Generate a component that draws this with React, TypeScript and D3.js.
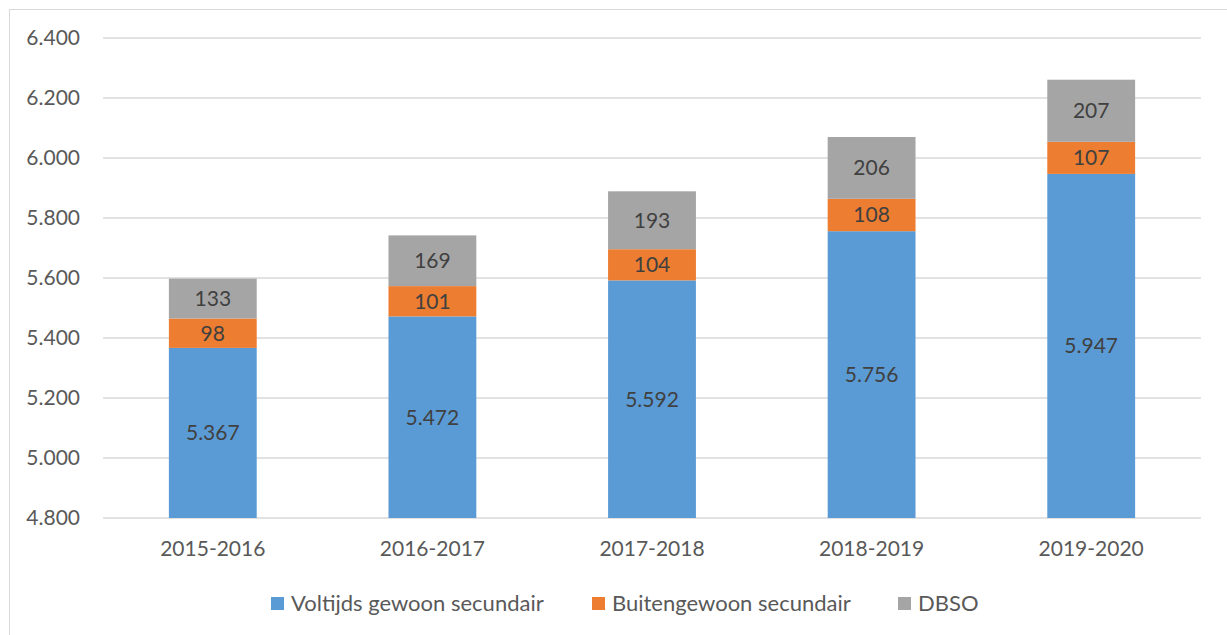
import React from "react";
import * as d3 from "d3";

const categories = ["2015-2016", "2016-2017", "2017-2018", "2018-2019", "2019-2020"];
const voltijds = [5367, 5472, 5592, 5756, 5947];
const buitengewoon = [98, 101, 104, 108, 107];
const dbso = [133, 169, 193, 206, 207];
const seriesNames = ["Voltijds gewoon secundair", "Buitengewoon secundair", "DBSO"];
const seriesColors = ["#5B9BD5", "#ED7D31", "#A5A5A5"];
const yTicks = [4800, 5000, 5200, 5400, 5600, 5800, 6000, 6200, 6400];

const W = 1227;
const H = 635;
const left = 103;
const right = 1201;
const top = 38;
const bottom = 518;
const font = "Lato, 'Open Sans', sans-serif";

const locale = d3.formatLocale({ decimal: ",", thousands: ".", grouping: [3], currency: ["€", ""] });
const fmt = locale.format(",d");

export default function App() {
  const x = d3.scaleBand<string>().domain(categories).range([left, right]).paddingInner(0.6).paddingOuter(0.3);
  const y = d3.scaleLinear().domain([4800, 6400]).range([bottom, top]);
  const rows = categories.map((c, i) => ({ cat: c, v: voltijds[i], b: buitengewoon[i], d: dbso[i] }));
  const stack = d3.stack<any>().keys(["v", "b", "d"])(rows);
  const legendX = [271, 592, 898];

  return (
    <svg width={W} height={H} style={{ position: "absolute", left: 0, top: 0, background: "#fff" }}>
      <rect x={9.5} y={9.5} width={W} height={H} fill="#fff" stroke="#D9D9D9" strokeWidth={1} />
      {yTicks.map((t) => (
        <g key={t}>
          <line x1={left} x2={right} y1={y(t)} y2={y(t)} stroke="#D9D9D9" strokeWidth={1.3} />
          <text x={80} y={y(t)} dy="0.35em" textAnchor="end" fontFamily={font} fontSize={21} fill="#595959">
            {fmt(t)}
          </text>
        </g>
      ))}
      {stack.map((layer, si) =>
        layer.map((seg, i) => {
          const y0 = Math.max(4800, seg[0]);
          const y1 = seg[1];
          const cx = (x(categories[i]) as number) + x.bandwidth() / 2;
          const val = seg[1] - seg[0];
          return (
            <g key={si + "-" + i}>
              <rect
                x={x(categories[i])}
                width={x.bandwidth()}
                y={y(y1)}
                height={y(y0) - y(y1)}
                fill={seriesColors[si]}
              />
              <text
                x={cx}
                y={(y(y0) + y(y1)) / 2}
                dy="0.35em"
                textAnchor="middle"
                fontFamily={font}
                fontSize={21}
                fill="#404040"
              >
                {fmt(val)}
              </text>
            </g>
          );
        })
      )}
      {categories.map((c) => (
        <text
          key={c}
          x={(x(c) as number) + x.bandwidth() / 2}
          y={549}
          dy="0.35em"
          textAnchor="middle"
          fontFamily={font}
          fontSize={21}
          fill="#595959"
        >
          {c}
        </text>
      ))}
      {seriesNames.map((n, i) => (
        <g key={n}>
          <rect x={legendX[i]} y={597} width={13} height={13} fill={seriesColors[i]} />
          <text x={legendX[i] + 20} y={603.5} dy="0.35em" fontFamily={font} fontSize={22} fill="#595959">
            {n}
          </text>
        </g>
      ))}
    </svg>
  );
}
